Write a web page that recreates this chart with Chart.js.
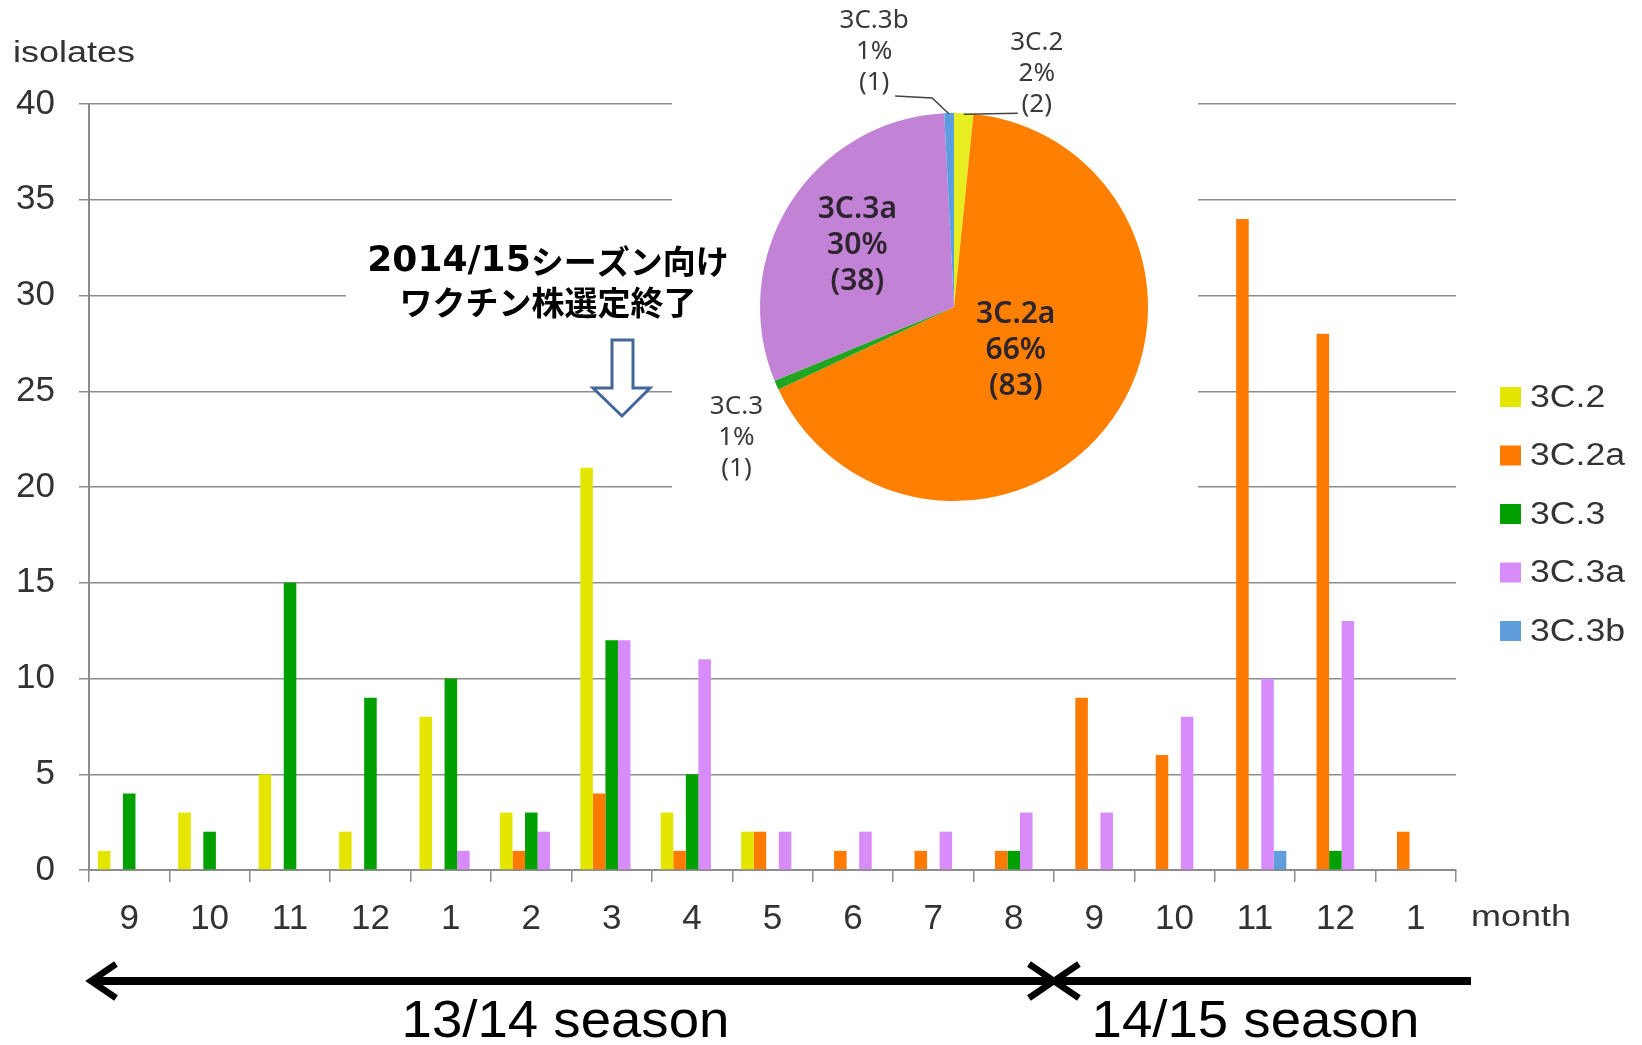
<!DOCTYPE html>
<html>
<head>
<meta charset="utf-8">
<script src="https://cdn.jsdelivr.net/npm/chart.js@4/dist/chart.umd.min.js"></script>
<style>
  html, body { margin: 0; padding: 0; background: #fff; }
  #wrap { position: relative; width: 1642px; height: 1045px; overflow: hidden; background: #fff; }
  #bar { position: absolute; left: 0; top: 0; }
  #pie { position: absolute; left: 672px; top: 0; }
</style>
</head>
<body>
<div id="wrap">
  <canvas id="bar" width="1642" height="1045"></canvas>
  <canvas id="pie" width="526" height="512"></canvas>
</div>
<script>
// Monthly isolates per genetic group, Sep 2013 – Jan 2015
const months = ['9','10','11','12','1','2','3','4','5','6','7','8','9','10','11','12','1'];
const seriesNames = ['3C.2', '3C.2a', '3C.3', '3C.3a', '3C.3b'];
const s3C2  = [1, 3, 5, 2, 8, 3, 21, 3, 2, 0, 0, 0, 0, 0, 0, 0, 0];
const s3C2a = [0, 0, 0, 0, 0, 1, 4, 1, 2, 1, 1, 1, 9, 6, 34, 28, 2];
const s3C3  = [4, 2, 15, 9, 10, 3, 12, 5, 0, 0, 0, 1, 0, 0, 0, 1, 0];
const s3C3a = [0, 0, 0, 0, 1, 2, 12, 11, 2, 2, 2, 3, 3, 8, 10, 13, 0];
const s3C3b = [0, 0, 0, 0, 0, 0, 0, 0, 0, 0, 0, 0, 0, 0, 1, 0, 0];
const yTicks = { min: 0, max: 40, step: 5 };

// Share of each group (inset pie)
const pieLabels = ['3C.2', '3C.2a', '3C.3', '3C.3a', '3C.3b'];
const pieCounts = [2, 83, 1, 38, 1];

// Season spans along the month axis (index of first / last month)
const seasons = [
  { name: '13/14 season', first: 0, last: 11 },
  { name: '14/15 season', first: 12, last: 16 }
];
const noteLines = ['2014/15シーズン向け', 'ワクチン株選定終了'];

const barColors = ['#e4e600', '#ff7a00', '#00a000', '#d88cfa', '#5f9ddc'];
const pieColors = ['#e6ee22', '#ff8000', '#22a622', '#c283d6', '#5a9ee0'];
const GRID = '#8c8c8c';
const TEXT = '#333333';

function scaledText(ctx, text, x, y, sx, align) {
  ctx.save();
  ctx.translate(x, y);
  ctx.scale(sx, 1);
  ctx.textAlign = align;
  ctx.fillText(text, 0, 0);
  ctx.restore();
}

const decorations = {
  id: 'decorations',
  beforeDatasetsDraw(chart) {
    // white panels behind the inset pie and the note text
    const ctx = chart.ctx;
    ctx.save();
    ctx.fillStyle = '#fff';
    ctx.fillRect(672, 0, 526, 512);
    ctx.fillRect(346, 228, 330, 100);
    ctx.restore();
  },
  afterDraw(chart) {
    const ctx = chart.ctx;
    const xs = chart.scales.x;
    const area = chart.chartArea;
    ctx.save();
    ctx.fillStyle = TEXT;
    ctx.textBaseline = 'alphabetic';

    // axis captions
    ctx.font = '30px "Liberation Sans", Arial, sans-serif';
    scaledText(ctx, 'isolates', 13, 62, 1.2, 'left');
    ctx.textBaseline = 'middle';
    scaledText(ctx, 'month', area.right + 15, 918, 1.2, 'left');

    // legend
    const ds = chart.data.datasets;
    ctx.font = '31px "Liberation Sans", Arial, sans-serif';
    ds.forEach((d, i) => {
      const cy = 397 + i * 58.5;
      ctx.fillStyle = d.backgroundColor;
      ctx.fillRect(1500, cy - 10, 21, 20);
      ctx.fillStyle = TEXT;
      scaledText(ctx, d.label, 1530, cy + 1, 1.15, 'left');
    });

    // note text
    ctx.fillStyle = '#000';
    ctx.textBaseline = 'middle';
    const cx = 548;
    const p1 = noteLines[0].match(/^([0-9\/]+)(.*)$/);
    const fLatin = 'bold 36px "DejaVu Sans", sans-serif';
    const fCjk = 'bold 33px "Noto Sans CJK JP", sans-serif';
    ctx.font = fLatin; const w1 = ctx.measureText(p1[1]).width;
    ctx.font = fCjk; const w2 = ctx.measureText(p1[2]).width;
    let sx = cx - (w1 + w2) / 2;
    ctx.textAlign = 'left';
    ctx.font = fLatin; ctx.fillText(p1[1], sx, 262);
    ctx.font = fCjk; ctx.fillText(p1[2], sx + w1, 261);
    ctx.textAlign = 'center';
    ctx.fillText(noteLines[1], cx, 302);

    // hollow down arrow
    ctx.beginPath();
    ctx.moveTo(612, 340); ctx.lineTo(633, 340); ctx.lineTo(633, 388);
    ctx.lineTo(650, 388); ctx.lineTo(622, 416); ctx.lineTo(593, 388);
    ctx.lineTo(612, 388); ctx.closePath();
    ctx.fillStyle = '#fff'; ctx.fill();
    ctx.strokeStyle = '#44679a'; ctx.lineWidth = 3; ctx.lineJoin = 'miter';
    ctx.stroke();

    // season arrows
    const half = (xs.getPixelForValue(1) - xs.getPixelForValue(0)) / 2;
    const left = xs.getPixelForValue(seasons[0].first) - half;
    const mid = xs.getPixelForValue(seasons[0].last) + half;
    const right = xs.getPixelForValue(seasons[1].last) + half + 15;
    const ay = 981;
    ctx.strokeStyle = '#000';
    ctx.lineWidth = 8;
    ctx.lineCap = 'butt';
    ctx.beginPath();
    ctx.moveTo(left + 3, ay); ctx.lineTo(right, ay);
    ctx.stroke();
    ctx.lineWidth = 6.5;
    ctx.lineJoin = 'miter';
    const head = (tx, dir) => {
      ctx.beginPath();
      ctx.moveTo(tx + dir * 25, ay - 17);
      ctx.lineTo(tx, ay);
      ctx.lineTo(tx + dir * 25, ay + 17);
      ctx.stroke();
    };
    head(left + 2, 1);
    head(mid, -1);
    head(mid, 1);

    ctx.fillStyle = '#000';
    ctx.textBaseline = 'alphabetic';
    ctx.font = '52px "Liberation Sans", Arial, sans-serif';
    scaledText(ctx, seasons[0].name, (left + mid) / 2 - 6, 1037, 1.05, 'center');
    scaledText(ctx, seasons[1].name, (mid + right) / 2 - 7, 1037, 1.05, 'center');
    ctx.restore();
  }
};

const seriesValues = [s3C2, s3C2a, s3C3, s3C3a, s3C3b];
const tickFont = { family: '"Liberation Sans", Arial, sans-serif', size: 35 };

new Chart(document.getElementById('bar'), {
  type: 'bar',
  data: {
    labels: months,
    datasets: seriesNames.map((n, i) => ({
      label: n,
      data: seriesValues[i],
      backgroundColor: barColors[i],
      borderWidth: 0,
      categoryPercentage: 0.78,
      barPercentage: 1
    }))
  },
  options: {
    responsive: false,
    animation: false,
    devicePixelRatio: 1,
    layout: { padding: { left: 0, right: 186, top: 104, bottom: 0 } },
    plugins: { legend: { display: false }, tooltip: { enabled: false } },
    scales: {
      x: {
        grid: { display: true, drawOnChartArea: false, drawTicks: true, tickLength: 12, color: GRID, lineWidth: 1.5, offset: true },
        border: { display: true, color: GRID, width: 2 },
        ticks: { font: tickFont, color: TEXT, padding: 16, maxRotation: 0, autoSkip: false },
        afterFit(s) { s.height = 175; }
      },
      y: {
        min: yTicks.min, max: yTicks.max,
        ticks: { stepSize: yTicks.step, font: tickFont, color: TEXT, padding: 24 },
        grid: { color: GRID, lineWidth: 1.5, tickLength: 10 },
        border: { color: GRID, width: 2 },
        afterFit(s) { s.width = 89; }
      }
    }
  },
  plugins: [decorations]
});

// Label placement for the pie: inside labels along the mid-angle, outside ones offset from the rim
const pieLabelPlace = [
  { dx: 73, dy: -40, leader: [[54, 0]] },
  { inside: 0.39 },
  { dx: -40, dy: 52 },
  { inside: 0.59 },
  { dx: -75, dy: -61, leader: [[-54, -17], [-17, -15]] }
];

const pieText = {
  id: 'pieText',
  afterDraw(chart) {
    const ctx = chart.ctx;
    const meta = chart.getDatasetMeta(0);
    const data = chart.data.datasets[0].data;
    const total = data.reduce((a, b) => a + b, 0);
    ctx.save();
    ctx.textAlign = 'center';
    ctx.textBaseline = 'middle';
    meta.data.forEach((arc, i) => {
      const p = arc.getProps(['x', 'y', 'startAngle', 'endAngle', 'outerRadius'], true);
      const a = (p.startAngle + p.endAngle) / 2;
      const lines = [chart.data.labels[i], Math.round(data[i] / total * 100) + '%', '(' + data[i] + ')'];
      const place = pieLabelPlace[i];
      if (place.inside) {
        const lx = p.x + Math.cos(a) * p.outerRadius * place.inside;
        const ly = p.y + Math.sin(a) * p.outerRadius * place.inside;
        ctx.fillStyle = '#2e2430';
        ctx.font = '600 30px "Noto Sans", sans-serif';
        lines.forEach((t, k) => ctx.fillText(t, lx, ly + (k - 1) * 36));
      } else {
        const ex = p.x + Math.cos(a) * p.outerRadius;
        const ey = p.y + Math.sin(a) * p.outerRadius;
        const lx = ex + place.dx, ly = ey + place.dy;
        ctx.fillStyle = '#3a3a3a';
        ctx.font = '26px "Noto Sans", sans-serif';
        lines.forEach((t, k) => ctx.fillText(t, lx, ly + (k - 1) * 31));
        if (place.leader) {
          ctx.strokeStyle = '#444';
          ctx.lineWidth = 1.5;
          ctx.beginPath();
          place.leader.forEach(([ox, oy], k) => {
            if (k === 0) ctx.moveTo(ex + ox, ey + oy); else ctx.lineTo(ex + ox, ey + oy);
          });
          ctx.lineTo(ex, ey + 1);
          ctx.stroke();
        }
      }
    });
    ctx.restore();
  }
};

new Chart(document.getElementById('pie'), {
  type: 'pie',
  data: {
    labels: pieLabels,
    datasets: [{ data: pieCounts, backgroundColor: pieColors, borderWidth: 0, hoverOffset: 0 }]
  },
  options: {
    responsive: false,
    animation: false,
    devicePixelRatio: 1,
    layout: { padding: { left: 88, right: 50, top: 113, bottom: 11 } },
    plugins: { legend: { display: false }, tooltip: { enabled: false } }
  },
  plugins: [pieText]
});
</script>
</body>
</html>
